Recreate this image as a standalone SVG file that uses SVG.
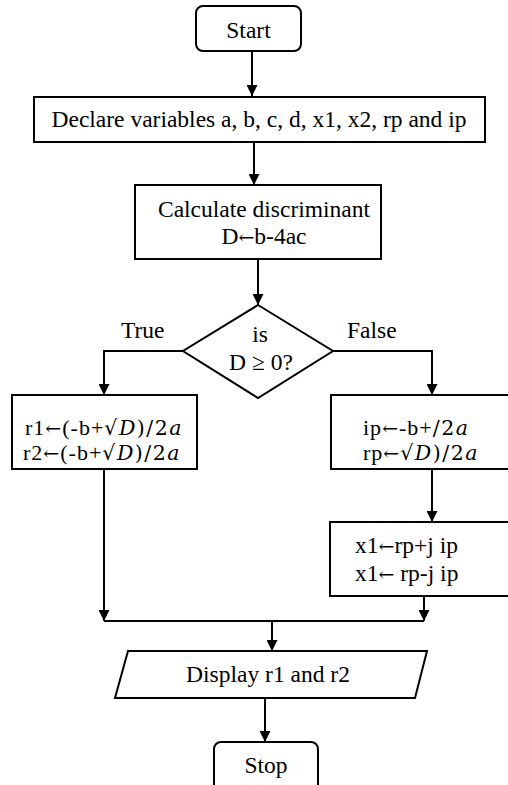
<svg xmlns="http://www.w3.org/2000/svg" width="508" height="785" viewBox="0 0 508 785">
<defs>
<marker id="ah" viewBox="0 0 10 10" refX="10" refY="5" markerWidth="11" markerHeight="11" markerUnits="userSpaceOnUse" orient="auto">
<path d="M0,0 L10,5 L0,10 Z" fill="#000"/>
</marker>
<style>
.s{fill:#fff;stroke:#000;stroke-width:2}
.c{fill:none;stroke:#000;stroke-width:2}
.t{font-family:"Liberation Serif","Times New Roman",serif;font-size:23.5px;fill:#000}
.f{font-family:"Liberation Serif","Times New Roman",serif;font-size:22px;fill:#000;letter-spacing:1px}
.m{font-family:"DejaVu Serif",serif;font-style:italic;font-size:20.5px;letter-spacing:1.5px}
.mm{font-family:"DejaVu Serif",serif;font-size:20.5px;letter-spacing:1.5px}
.ar{font-family:"DejaVu Serif",serif;font-size:19px}
</style>
</defs>
<rect width="508" height="785" fill="#fff"/>
<g id="connectors">
<line class="c" x1="252" y1="51" x2="252" y2="96" marker-end="url(#ah)"/>
<line class="c" x1="254" y1="142" x2="254" y2="185" marker-end="url(#ah)"/>
<line class="c" x1="258" y1="259" x2="258" y2="305" marker-end="url(#ah)"/>
<polyline class="c" points="183,351 104,351 104,395" marker-end="url(#ah)"/>
<polyline class="c" points="333,351 432,351 432,395" marker-end="url(#ah)"/>
<line class="c" x1="432" y1="469" x2="432" y2="522" marker-end="url(#ah)"/>
<line class="c" x1="104" y1="469" x2="104" y2="621" marker-end="url(#ah)"/>
<line class="c" x1="424" y1="596" x2="424" y2="621" marker-end="url(#ah)"/>
<line class="c" x1="104" y1="621" x2="424" y2="621"/>
<line class="c" x1="272" y1="621" x2="272" y2="651" marker-end="url(#ah)"/>
<line class="c" x1="265" y1="698" x2="265" y2="742" marker-end="url(#ah)"/>
<text class="t" x="121" y="338">True</text>
<text class="t" x="347" y="338">False</text>
</g>
<g id="start">
<rect class="s" x="196" y="6" width="105" height="45" rx="7"/>
<text class="t" x="248.5" y="38" text-anchor="middle">Start</text>
</g>
<g id="declare">
<rect class="s" x="34" y="97" width="451" height="45"/>
<text class="t" x="259" y="127" text-anchor="middle">Declare variables a, b, c, d, x1, x2, rp and ip</text>
</g>
<g id="calc">
<rect class="s" x="135" y="185" width="246" height="74"/>
<text class="t" x="264" y="217" text-anchor="middle">Calculate discriminant</text>
<text class="t" x="264" y="244" text-anchor="middle">D<tspan class="ar">←</tspan>b-4ac</text>
</g>
<g id="decision">
<polygon class="s" points="258,305 333,351 258,398 183,351"/>
<text class="t" x="260" y="342" text-anchor="middle">is</text>
<text class="t" x="261" y="370" text-anchor="middle">D ≥ 0?</text>
</g>
<g id="trueBox">
<rect class="s" x="12" y="395" width="185" height="74"/>
<text class="f" x="25" y="435">r1<tspan class="ar">←</tspan>(-b+<tspan class="mm">√</tspan><tspan class="m">D</tspan><tspan class="mm">)/2</tspan><tspan class="m">a</tspan></text>
<text class="f" x="23" y="460">r2<tspan class="ar">←</tspan>(-b+<tspan class="mm">√</tspan><tspan class="m">D</tspan><tspan class="mm">)/2</tspan><tspan class="m">a</tspan></text>
</g>
<g id="falseBox">
<rect class="s" x="331" y="395" width="190" height="74"/>
<text class="f" x="363" y="435">ip<tspan class="ar">←</tspan>-b+<tspan class="mm">/2</tspan><tspan class="m">a</tspan></text>
<text class="f" x="363" y="460">rp<tspan class="ar">←</tspan><tspan class="mm">√</tspan><tspan class="m">D</tspan><tspan class="mm">)/2</tspan><tspan class="m">a</tspan></text>
</g>
<g id="complexBox">
<rect class="s" x="330" y="522" width="190" height="74"/>
<text class="t" x="355" y="553">x1<tspan class="ar">←</tspan>rp+j ip</text>
<text class="t" x="355" y="581">x1<tspan class="ar">←</tspan> rp-j ip</text>
</g>
<g id="display">
<polygon class="s" points="128,651 427,651 415,698 115,698"/>
<text class="t" x="268" y="682" text-anchor="middle">Display r1 and r2</text>
</g>
<g id="stop">
<rect class="s" x="214" y="742" width="104" height="50" rx="7"/>
<text class="t" x="266" y="773" text-anchor="middle">Stop</text>
</g>
</svg>
